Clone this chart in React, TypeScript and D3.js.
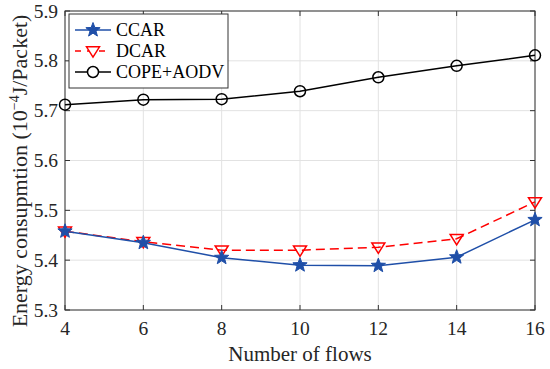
import * as d3 from 'd3';

const flows = [4, 6, 8, 10, 12, 14, 16];
const ccar = [5.458, 5.435, 5.405, 5.39, 5.389, 5.406, 5.481];
const dcar = [5.458, 5.437, 5.42, 5.42, 5.426, 5.443, 5.517];
const copeAodv = [5.712, 5.722, 5.723, 5.739, 5.767, 5.79, 5.811];
const yTicks = [5.3, 5.4, 5.5, 5.6, 5.7, 5.8, 5.9];
const seriesNames = ['CCAR', 'DCAR', 'COPE+AODV'];

const W = 550;
const H = 369;
const m = { left: 65, right: 15, top: 11, bottom: 59 };
const font = '"Liberation Serif", "Times New Roman", serif';

function star(cx: number, cy: number, r: number) {
  const pts: string[] = [];
  for (let i = 0; i < 10; i++) {
    const a = -Math.PI / 2 + (i * Math.PI) / 5;
    const rr = i % 2 === 0 ? r : r * 0.42;
    pts.push(`${cx + rr * Math.cos(a)},${cy + rr * Math.sin(a)}`);
  }
  return `M${pts.join('L')}Z`;
}

function tri(cx: number, cy: number, r: number) {
  return `M${cx - r},${cy - r * 0.65}L${cx + r},${cy - r * 0.65}L${cx},${cy + r * 0.95}Z`;
}

export default function App() {
  const x = d3.scaleLinear().domain([4, 16]).range([m.left, W - m.right]);
  const y = d3.scaleLinear().domain([5.3, 5.9]).range([H - m.bottom, m.top]);
  const line = d3
    .line<number>()
    .x((_, i) => x(flows[i]))
    .y((d) => y(d));

  const x0 = x(4), x1 = x(16), y0 = y(5.3), y1 = y(5.9);
  const blue = '#1f4fa8';
  const red = '#ff0000';

  return (
    <svg width={W} height={H} style={{ position: 'absolute', left: 0, top: 0, background: '#fff' }}>
      {/* grid */}
      {flows.map((f) => (
        <line key={'gx' + f} x1={x(f)} x2={x(f)} y1={y0} y2={y1} stroke="#e2e2e2" strokeWidth={1} />
      ))}
      {yTicks.map((t) => (
        <line key={'gy' + t} x1={x0} x2={x1} y1={y(t)} y2={y(t)} stroke="#e2e2e2" strokeWidth={1} />
      ))}
      {/* ticks, inward on all sides */}
      {flows.map((f) => (
        <g key={'tx' + f}>
          <line x1={x(f)} x2={x(f)} y1={y0} y2={y0 - 5} stroke="#333" />
          <line x1={x(f)} x2={x(f)} y1={y1} y2={y1 + 5} stroke="#333" />
          <text x={x(f)} y={y0 + 25} textAnchor="middle" fontFamily={font} fontSize={19.5} fill="#262626">
            {f}
          </text>
        </g>
      ))}
      {yTicks.map((t) => (
        <g key={'ty' + t}>
          <line x1={x0} x2={x0 + 5} y1={y(t)} y2={y(t)} stroke="#333" />
          <line x1={x1} x2={x1 - 5} y1={y(t)} y2={y(t)} stroke="#333" />
          <text x={x0 - 7} y={y(t) + 6.5} textAnchor="end" fontFamily={font} fontSize={19.5} fill="#262626">
            {t.toFixed(1)}
          </text>
        </g>
      ))}
      <rect x={x0} y={y1} width={x1 - x0} height={y0 - y1} fill="none" stroke="#333" strokeWidth={1} />

      {/* series */}
      <path d={line(copeAodv) ?? ''} fill="none" stroke="#000" strokeWidth={1.5} />
      <path d={line(dcar) ?? ''} fill="none" stroke={red} strokeWidth={1.5} strokeDasharray="9,5" />
      <path d={line(ccar) ?? ''} fill="none" stroke={blue} strokeWidth={1.5} />
      {copeAodv.map((v, i) => (
        <circle key={'c' + i} cx={x(flows[i])} cy={y(v)} r={5.5} fill="none" stroke="#000" strokeWidth={1.5} />
      ))}
      {dcar.map((v, i) => (
        <path key={'d' + i} d={tri(x(flows[i]), y(v), 6.5)} fill="none" stroke={red} strokeWidth={1.5} />
      ))}
      {ccar.map((v, i) => (
        <path key={'s' + i} d={star(x(flows[i]), y(v), 7.5)} fill={blue} stroke={blue} strokeWidth={1} />
      ))}

      {/* legend */}
      <g>
        <rect x={69} y={14} width={159} height={74} fill="#fff" stroke="#333" strokeWidth={1} />
        {seriesNames.map((n, i) => {
          const ly = 30 + i * 21;
          return (
            <g key={n}>
              {i === 0 && (
                <>
                  <line x1={75} x2={111} y1={ly} y2={ly} stroke={blue} strokeWidth={1.5} />
                  <path d={star(93, ly, 7.5)} fill={blue} stroke={blue} />
                </>
              )}
              {i === 1 && (
                <>
                  <line x1={75} x2={111} y1={ly} y2={ly} stroke={red} strokeWidth={1.5} strokeDasharray="6,6" />
                  <path d={tri(93, ly, 6.5)} fill="#fff" stroke={red} strokeWidth={1.5} />
                </>
              )}
              {i === 2 && (
                <>
                  <line x1={75} x2={111} y1={ly} y2={ly} stroke="#000" strokeWidth={1.5} />
                  <circle cx={93} cy={ly} r={5.5} fill="#fff" stroke="#000" strokeWidth={1.5} />
                </>
              )}
              <text x={116} y={ly + 6} fontFamily={font} fontSize={18} fill="#000">
                {n}
              </text>
            </g>
          );
        })}
      </g>

      {/* axis labels */}
      <text x={(x0 + x1) / 2} y={361} textAnchor="middle" fontFamily={font} fontSize={21} fill="#262626">
        Number of flows
      </text>
      <text
        transform={`translate(27,171) rotate(-90)`}
        textAnchor="middle"
        fontFamily={font}
        fontSize={22}
        fill="#262626"
      >
        Energy consupmtion (10
        <tspan dy={-8} fontSize={14}>−4</tspan>
        <tspan dy={8}>J/Packet)</tspan>
      </text>
    </svg>
  );
}
